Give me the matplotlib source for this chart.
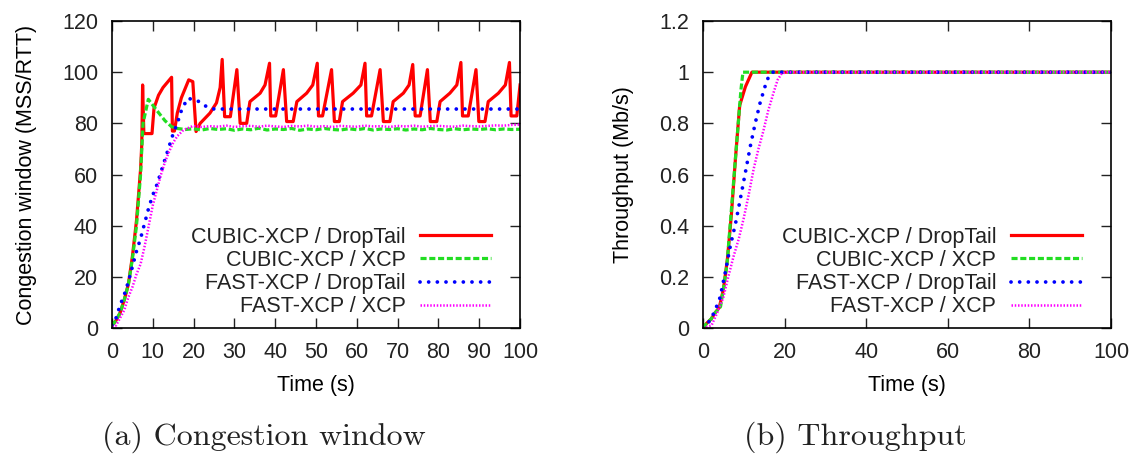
import matplotlib
matplotlib.use('Agg')
import matplotlib.pyplot as plt

# (a) congestion window, MSS/RTT
red_t = [0, 1, 2, 3, 4, 5, 6, 7, 7.3, 7.5, 7.8, 9.8, 10.3, 11.4, 12.5, 14.6, 14.8, 15.3, 16, 17,
         18.8, 19.8, 20.6, 21.6, 24, 25.6, 26.5, 27, 27.6, 29, 30.6, 31.4, 33, 33.8, 36.3, 37.5,
         38.6, 38.9, 40.1, 42, 42.8, 44.4, 45.3, 47.7, 49.2, 50.3, 50.6, 51.6, 53.8, 54.5, 55.7,
         56.5, 59.1, 61, 62, 62.4, 63.6, 65.7, 66.5, 68.1, 68.9, 71.4, 72.8, 73.7, 74.3, 75.5,
         77.3, 78, 79.6, 80.4, 82.8, 84.5, 85.5, 85.9, 87.3, 89.2, 89.9, 91.4, 92.2, 94.7, 96.4,
         97.4, 97.8, 99.2, 100]
red_v = [1, 3, 6, 11, 17, 28, 42, 62, 72, 95, 76, 76, 86, 91, 94, 98, 77, 77, 84, 90,
         97, 96.3, 76.8, 80, 84, 88, 94, 105, 82.6, 82.6, 101, 80, 80, 88.5, 91.8, 95,
         103.5, 82.9, 82.9, 101, 80.7, 80.7, 88.5, 91.8, 95, 103.5, 82.9, 82.9, 101, 80.7, 80.7,
         88.5, 91.8, 95, 103.5, 82.9, 82.9, 101, 80.7, 80.7, 88.5, 91.8, 95, 103, 82.9, 82.9,
         101, 80.7, 80.7, 88.5, 91.8, 95, 103.8, 82.9, 82.9, 101, 80.7, 80.7, 88.5, 91.8, 95,
         103.8, 82.9, 82.9, 95]

green_t = [0, 1, 2, 3, 4, 5, 6, 7, 7.6, 8.9, 11, 13, 14.6, 16, 18, 20, 22, 24, 26, 28, 30,
           32, 34, 36, 38, 40, 42, 44, 46, 48, 50, 52, 54, 56, 58, 60, 62, 64, 66, 68, 70,
           72, 74, 76, 78, 80, 82, 84, 86, 88, 90, 92, 94, 96, 98, 100]
green_v = [1, 3, 6, 11, 17, 27, 40, 60, 80, 89.4, 85, 81, 78.7, 78, 77.6, 77.9, 77.4, 78, 77.6,
           77.9, 77.3, 77.8, 77.5, 78.1, 77.4, 77.8, 77.6, 78, 77.3, 77.8, 77.5, 78, 77.6, 77.4,
           77.9, 77.5, 78, 77.4, 77.8, 77.6, 77.9, 77.4, 77.8, 77.5, 78, 77.6, 77.4, 77.9, 77.5,
           77.8, 77.6, 77.9, 77.5, 77.8, 77.6, 77.7]

blue_t = [0, 1, 2, 3, 4, 5, 6, 7, 8, 9, 10, 11, 12, 13, 14, 15, 16, 17, 18.5, 20.8, 23.2,
          25, 40, 60, 80, 100]
blue_v = [1, 4, 9, 13, 18, 24, 30, 35, 41, 47, 52, 56, 61, 66, 71, 76, 80, 85, 89.8, 89, 86.5,
          85.6, 85.6, 85.6, 85.6, 85.6]

mag_t = [0, 1, 2, 3, 4, 5, 6, 7, 8, 9, 10, 11, 12, 13, 14, 15, 16, 17.5, 19.9, 22, 24, 26,
         28, 30, 32, 34, 36, 38, 40, 42, 44, 46, 48, 50, 52, 54, 56, 58, 60, 62, 64, 66, 68,
         70, 72, 74, 76, 78, 80, 82, 84, 86, 88, 90, 92, 94, 96, 98, 100]
mag_v = [0.5, 1, 4, 7, 12, 16, 21, 25, 32, 40, 48, 54, 60, 65, 69, 72.5, 75, 77.4, 79, 78.6,
         78.9, 78.7, 79.1, 78.6, 78.9, 79, 78.7, 79.1, 78.8, 78.6, 79, 78.8, 79.1, 78.7, 78.9,
         78.6, 79, 78.8, 78.7, 79.1, 78.8, 78.9, 78.6, 79, 78.8, 79.1, 78.7, 78.9, 79, 78.8,
         78.7, 79.1, 78.9, 78.8, 79, 79.2, 79.1, 79.4, 79.5]

# (b) throughput, Mb/s
thr_red_t = [0, 1, 2, 3, 4, 5, 6, 7, 8, 9, 10.4, 12, 100]
thr_red_v = [0, 0.02, 0.035, 0.06, 0.08, 0.15, 0.27, 0.45, 0.67, 0.87, 0.943, 1.0, 1.0]
thr_green_t = [0, 1, 2, 3, 4.3, 5, 5.9, 7.5, 8.7, 9.3, 9.8, 100]
thr_green_v = [0, 0.02, 0.035, 0.06, 0.083, 0.15, 0.25, 0.57, 0.81, 0.93, 1.0, 1.0]
thr_blue_t = [0, 1.8, 3, 4.2, 5.5, 6.7, 8, 9.1, 10.3, 11.6, 12.8, 14, 15.7, 16.9, 100]
thr_blue_v = [0, 0.03, 0.07, 0.12, 0.22, 0.32, 0.41, 0.5, 0.6, 0.71, 0.8, 0.88, 0.97, 1.0, 1.0]
thr_mag_t = [0, 2.1, 3.5, 5, 6.2, 7.5, 8.8, 10, 11.2, 12.4, 13.6, 14.8, 16, 17.3, 18.3, 19.3,
             20.5, 100]
thr_mag_v = [0, 0.01, 0.06, 0.12, 0.2, 0.28, 0.35, 0.43, 0.52, 0.62, 0.7, 0.77, 0.85, 0.92,
             0.97, 0.995, 1.0, 1.0]

labels = ['CUBIC-XCP / DropTail', 'CUBIC-XCP / XCP', 'FAST-XCP / DropTail', 'FAST-XCP / XCP']

plt.rcParams['font.family'] = ['Liberation Sans', 'DejaVu Sans']
plt.rcParams['font.size'] = 15.5
plt.rcParams['text.color'] = '#222222'
plt.rcParams['xtick.color'] = '#222222'
plt.rcParams['ytick.color'] = '#222222'


def draw_lines(ax, series):
	styles = [
		dict(color='#ff0000', lw=2.3, ls='-'),
		dict(color='#22dd22', lw=2.3, ls=(0, (1.9, 0.85))),
		dict(color='#0000ff', lw=2.7, ls=(0, (0.01, 2.3)), dash_capstyle='round'),
		dict(color='#ff00ff', lw=1.8, ls=(0, (0.6, 0.7))),
	]
	for (t, v), lab, st in zip(series, labels, styles):
		ax.plot(t, v, label=lab, **st)


def style_axes(ax):
	ax.tick_params(direction='in', length=7, width=1.0, top=True, right=True, pad=10)
	for s in ax.spines.values():
		s.set_linewidth(1.2)
	leg = ax.legend(loc='lower right', bbox_to_anchor=(0.93, 0.035), markerfirst=False,
		frameon=False, handlelength=3.3, handletextpad=0.7, labelspacing=0.1,
		borderpad=0, borderaxespad=0, fontsize=15.5)
	return leg


def main():
	fig = plt.figure(figsize=(11.36, 4.58), dpi=100)

	ax1 = fig.add_axes([0.0986, 0.2838, 0.3592, 0.6703])
	draw_lines(ax1, [(red_t, red_v), (green_t, green_v), (blue_t, blue_v), (mag_t, mag_v)])
	ax1.set_xlim(0, 100)
	ax1.set_ylim(0, 120)
	ax1.set_xticks(range(0, 101, 10))
	ax1.set_yticks(range(0, 121, 20))
	ax1.set_xlabel('Time (s)', labelpad=9)
	ax1.set_ylabel('Congestion window (MSS/RTT)', labelpad=18)
	style_axes(ax1)

	ax2 = fig.add_axes([0.6188, 0.2838, 0.3592, 0.6703])
	draw_lines(ax2, [(thr_red_t, thr_red_v), (thr_green_t, thr_green_v),
		(thr_blue_t, thr_blue_v), (thr_mag_t, thr_mag_v)])
	ax2.set_xlim(0, 100)
	ax2.set_ylim(0, 1.2)
	ax2.set_xticks(range(0, 101, 20))
	ax2.set_yticks([0, 0.2, 0.4, 0.6, 0.8, 1, 1.2])
	ax2.set_yticklabels(['0', '0.2', '0.4', '0.6', '0.8', '1', '1.2'])
	ax2.set_xlabel('Time (s)', labelpad=9)
	ax2.set_ylabel('Throughput (Mb/s)', labelpad=18)
	style_axes(ax2)

	fig.text(264 / 1136, 1 - 437 / 458, '(a) Congestion window', family='cmr10',
		fontsize=23, ha='center', va='center')
	fig.text(855 / 1136, 1 - 437 / 458, '(b) Throughput', family='cmr10',
		fontsize=23, ha='center', va='center')

	fig.savefig('out.png', dpi=100)


if __name__ == '__main__':
	main()
